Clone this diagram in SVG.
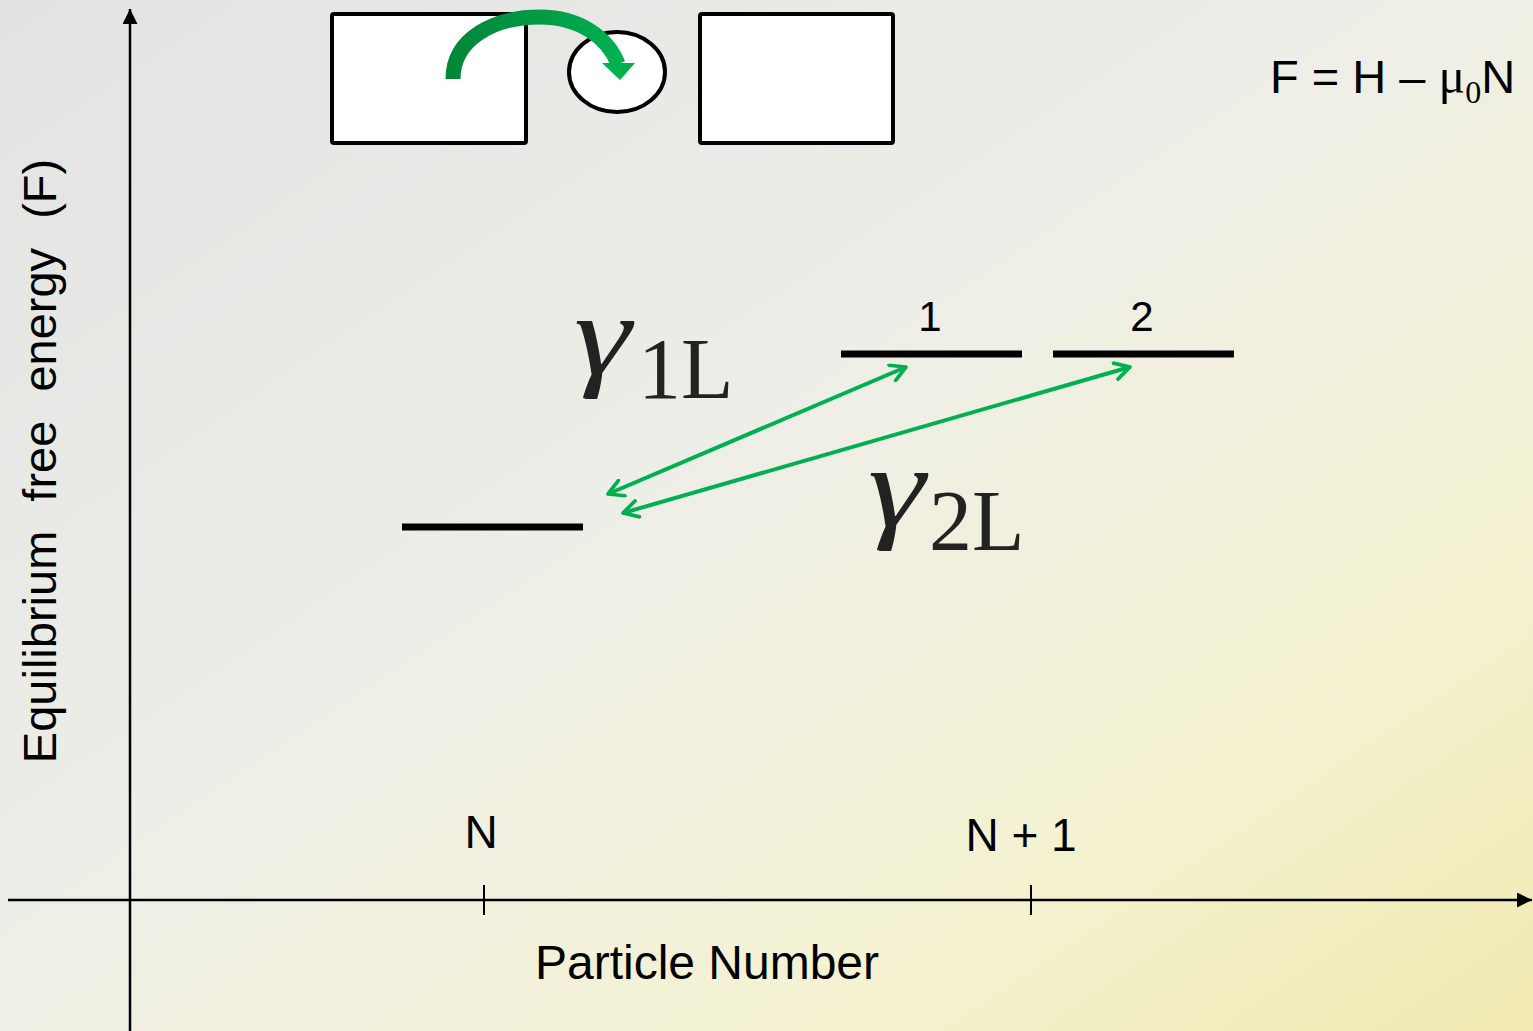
<svg xmlns="http://www.w3.org/2000/svg" width="1533" height="1031" viewBox="0 0 1533 1031">
<defs>
<linearGradient id="bg" x1="0" y1="0" x2="1" y2="1">
<stop offset="0" stop-color="#e2e2e2"/>
<stop offset="0.45" stop-color="#eeeee8"/>
<stop offset="0.75" stop-color="#f4f2d2"/>
<stop offset="1" stop-color="#f0eab0"/>
</linearGradient>
<linearGradient id="gr" x1="0" y1="0" x2="1" y2="0">
<stop offset="0" stop-color="#00873a"/>
<stop offset="0.5" stop-color="#009a45"/>
<stop offset="1" stop-color="#00b050"/>
</linearGradient>
<marker id="ax" viewBox="0 0 10 10" refX="10" refY="5" markerWidth="6" markerHeight="6" orient="auto" markerUnits="strokeWidth">
<path d="M0,0 L10,5 L0,10 z" fill="#000"/>
</marker>
<marker id="gh" viewBox="0 0 12 12" refX="10" refY="6" markerWidth="5" markerHeight="5" orient="auto-start-reverse" markerUnits="strokeWidth">
<path d="M1,1 L10,6 L1,11" fill="none" stroke="#00b050" stroke-width="2.2" stroke-linecap="round" stroke-linejoin="round"/>
</marker>
<style>
.t{font-family:"Liberation Sans",Arial,sans-serif;fill:#000}
.s{font-family:"Liberation Serif","Times New Roman",serif;fill:#222}
.lvl{stroke:#000;stroke-width:7}
.box{fill:#fff;stroke:#000;stroke-width:4}
.g{stroke:#00b050;stroke-width:4;fill:none}
</style>
</defs>
<rect width="1533" height="1031" fill="url(#bg)"/>
<g id="axes">
<line x1="130" y1="1031" x2="130" y2="9" stroke="#000" stroke-width="2.5" marker-end="url(#ax)"/>
<line x1="8" y1="900" x2="1532" y2="900" stroke="#000" stroke-width="2.5" marker-end="url(#ax)"/>
<line x1="484" y1="885" x2="484" y2="915" stroke="#000" stroke-width="2"/>
<line x1="1031" y1="885" x2="1031" y2="915" stroke="#000" stroke-width="2"/>
</g>
<g id="box-left"><rect class="box" x="332" y="14" width="194" height="129" rx="2"/></g>
<g id="box-right"><rect class="box" x="700" y="14" width="193" height="129" rx="2"/></g>
<g id="dot"><ellipse class="box" cx="617" cy="72" rx="48" ry="40"/></g>
<g id="hop-arrow">
<path d="M453,79 C453,38 495,17 540,17 C580,17 608,38 618,64" fill="none" stroke="url(#gr)" stroke-width="15"/>
<polygon points="602,63 635,63 620,80" fill="#00b050"/>
</g>
<g id="level-N"><line class="lvl" x1="402" y1="527" x2="583" y2="527"/></g>
<g id="level-1"><line class="lvl" x1="841" y1="354" x2="1022" y2="354"/><text class="t" x="930" y="331" font-size="42" text-anchor="middle">1</text></g>
<g id="level-2"><line class="lvl" x1="1053" y1="354" x2="1234" y2="354"/><text class="t" x="1142" y="331" font-size="42" text-anchor="middle">2</text></g>
<g id="connectors">
<line class="g" x1="608" y1="494" x2="906" y2="367" marker-start="url(#gh)" marker-end="url(#gh)"/>
<line class="g" x1="623" y1="513" x2="1130" y2="367" marker-start="url(#gh)" marker-end="url(#gh)"/>
</g>
<g id="gamma1L"><text class="s" transform="translate(574,374) scale(1.25,1)" font-size="116" font-style="italic">γ</text><text class="s" x="638" y="398" font-size="86">1L</text></g>
<g id="gamma2L"><text class="s" transform="translate(868,526) scale(1.25,1)" font-size="116" font-style="italic">γ</text><text class="s" x="929" y="550" font-size="86">2L</text></g>
<g id="labels">
<text class="t" x="1270" y="93" font-size="47">F = H – <tspan font-family="Liberation Serif, serif" font-size="50">μ</tspan><tspan font-family="Liberation Serif, serif" font-size="32" dy="10">0</tspan><tspan dy="-10">N</tspan></text>
<text class="t" x="481" y="848" font-size="46" text-anchor="middle">N</text>
<text class="t" x="1021" y="851" font-size="46" text-anchor="middle">N + 1</text>
<text class="t" x="707" y="979" font-size="48" text-anchor="middle">Particle Number</text>
<text class="t" transform="translate(56,461) rotate(-90)" font-size="47" text-anchor="middle" word-spacing="16">Equilibrium free energy (F)</text>
</g>
</svg>
